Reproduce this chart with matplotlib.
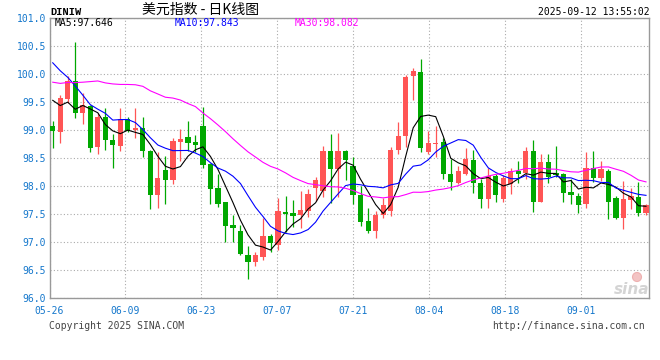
import numpy as np
import pandas as pd
import matplotlib
matplotlib.use("Agg")
import matplotlib.pyplot as plt
from matplotlib.patches import Circle
from matplotlib.transforms import IdentityTransform

# Bougies journalières DINIW, du 05-26 au 09-12 (80 jours ouvrés)
dates = pd.bdate_range("2025-05-26", "2025-09-12")

opens = [99.07, 98.97, 99.56, 99.87, 99.31, 99.42, 98.69, 99.24, 98.82, 98.71,
         99.19, 99.00, 99.04, 98.63, 97.84, 98.28, 98.10, 98.79, 98.87, 98.79,
         99.07, 98.40, 97.97, 97.71, 97.31, 97.19, 96.77, 96.64, 96.74, 97.11,
         96.95, 97.53, 97.51, 97.49, 97.55, 97.97, 97.91, 98.63, 98.30, 98.63,
         98.36, 97.84, 97.37, 97.19, 97.49, 97.56, 98.65, 98.90, 99.96, 100.04,
         98.61, 98.75, 98.78, 98.22, 98.06, 98.22, 98.47, 98.06, 97.77, 98.18,
         97.77, 98.04, 98.27, 98.24, 98.63, 97.71, 98.42, 98.23, 98.21, 97.90,
         97.83, 97.68, 98.33, 98.14, 98.27, 97.78, 97.42, 97.75, 97.81, 97.52]
highs = [99.16, 99.62, 99.96, 100.57, 99.66, 99.45, 99.31, 99.40, 98.93, 99.40,
         99.23, 99.40, 99.23, 98.64, 98.60, 98.54, 98.85, 99.01, 99.16, 98.91,
         99.41, 98.41, 98.22, 97.71, 97.49, 97.31, 96.93, 96.82, 97.42, 97.14,
         97.78, 97.82, 97.75, 97.91, 97.95, 98.16, 98.72, 98.92, 98.95, 98.64,
         98.51, 98.00, 97.60, 97.55, 97.78, 98.69, 99.15, 99.99, 100.11, 100.27,
         98.98, 99.07, 98.86, 98.48, 98.36, 98.67, 98.64, 98.12, 98.33, 98.22,
         98.20, 98.32, 98.44, 98.69, 98.83, 98.57, 98.57, 98.72, 98.24, 98.12,
         97.88, 98.60, 98.63, 98.44, 98.30, 97.82, 98.09, 97.96, 98.08, 97.68]
lows = [98.67, 98.76, 99.49, 99.21, 99.11, 98.60, 98.57, 98.64, 98.33, 98.63,
        98.96, 98.85, 98.51, 97.59, 97.60, 97.68, 98.03, 98.45, 98.63, 98.60,
        98.33, 97.68, 97.62, 97.00, 97.00, 96.76, 96.34, 96.58, 96.67, 96.82,
        96.86, 97.17, 97.26, 97.25, 97.44, 97.74, 97.80, 97.69, 97.80, 98.10,
        97.68, 97.29, 97.16, 97.08, 97.42, 97.47, 98.57, 98.70, 99.53, 98.60,
        98.57, 98.52, 98.13, 97.93, 98.04, 98.20, 97.88, 97.60, 97.60, 97.72,
        97.71, 97.85, 98.06, 98.12, 97.53, 97.71, 98.06, 98.16, 97.72, 97.68,
        97.51, 97.61, 98.08, 98.09, 97.41, 97.41, 97.23, 97.59, 97.46, 97.49]
closes = [98.98, 99.58, 99.87, 99.31, 99.45, 98.67, 99.24, 98.82, 98.74, 99.20,
          98.99, 99.04, 98.63, 97.84, 98.15, 98.10, 98.80, 98.84, 98.76, 98.73,
          98.37, 97.94, 97.68, 97.28, 97.25, 96.79, 96.64, 96.76, 97.11, 96.98,
          97.55, 97.50, 97.47, 97.57, 97.85, 98.11, 98.63, 98.30, 98.63, 98.46,
          97.84, 97.36, 97.19, 97.49, 97.66, 98.64, 98.90, 99.95, 100.05, 98.67,
          98.76, 98.76, 98.21, 98.08, 98.26, 98.49, 98.06, 97.77, 98.18, 97.84,
          98.15, 98.27, 98.21, 98.63, 97.71, 98.42, 98.16, 98.20, 97.87, 97.84,
          97.66, 98.32, 98.14, 98.31, 97.71, 97.42, 97.77, 97.82, 97.52, 97.66]

# clôtures avant le 05-26 (estimées), juste pour amorcer les moyennes mobiles
pre_close = [100.22, 99.38, 99.38, 99.23, 98.35, 98.90, 99.85, 99.30, 99.47, 99.00,
             99.20, 99.47, 100.25, 99.85, 99.83, 99.25, 99.90, 100.64, 100.35, 101.79,
             101.00, 101.05, 100.84, 101.09, 100.37, 100.05, 99.56, 99.95, 99.11]

ma_periods = [5, 10, 30]
ma_colors = ["black", "#0000ff", "#ff00ff"]
ma_labels = ["MA5:97.646", "MA10:97.843", "MA30:98.082"]

tick_labels = ["05-26", "06-09", "06-23", "07-07", "07-21", "08-04", "08-18", "09-01"]
y_ticks = [96.0, 96.5, 97.0, 97.5, 98.0, 98.5, 99.0, 99.5, 100.0, 100.5, 101.0]

W, H = 660, 360
fig = plt.figure(figsize=(W / 100, H / 100), dpi=100)
ax = fig.add_axes([49.5 / W, 62 / H, 599.5 / W, 280 / H])

x = np.arange(len(closes))
o = np.array(opens)
c = np.array(closes)
up = c >= o
col = np.where(up, "#ff5555", "#00a800")

# mèches puis corps
ax.vlines(x, lows, highs, colors=col, lw=0.9, zorder=2)
body_bot = np.minimum(o, c)
body_h = np.maximum(np.abs(c - o), 0.02)
ax.bar(x, body_h, bottom=body_bot, width=0.7, color=col, lw=0, zorder=3)

# moyennes mobiles
s = pd.Series(pre_close + closes)
for n, colr in zip(ma_periods, ma_colors):
    ma = s.rolling(n).mean().iloc[len(pre_close):].values
    ax.plot(x, ma, color=colr, lw=0.8, zorder=4)

ax.set_ylim(96, 101)
ax.set_xlim(-0.43, 79.4)

mono = "DejaVu Sans Mono"
ax.set_yticks(y_ticks)
ax.set_yticklabels([f"{v:.1f}" for v in y_ticks], fontsize=7, color="#1477cc", family=mono)
tick_pos = [dates.get_loc(pd.Timestamp("2025-" + t)) * 1.012 - 0.43 for t in tick_labels]
ax.set_xticks(tick_pos)
ax.set_xticklabels(tick_labels, fontsize=7, color="#1477cc", family=mono)
ax.tick_params(axis="both", length=0)
ax.tick_params(axis="y", pad=2.5)
ax.tick_params(axis="x", pad=6)

ax.grid(True, color="#aaaaaa", linestyle=(0, (1, 2)), lw=0.8, zorder=0)
for sp in ax.spines.values():
    sp.set_color("#999999")
    sp.set_linewidth(1)

# légende des MA dans le cadre
for lab, colr, px in zip(ma_labels, ma_colors, [55, 175, 295]):
    fig.text(px / W, 1 - 23.5 / H, lab, color=colr, fontsize=7, family=mono, va="center")

# en-tête
fig.text(50.5 / W, 1 - 12 / H, "DINIW", fontsize=7.5, family="Liberation Mono",
         weight="bold", va="center")
fig.text(201 / W, 1 - 9.5 / H, "美元指数 - 日K线图", fontsize=10, ha="center", va="center",
         family=["Noto Sans CJK SC", "DejaVu Sans"])
fig.text(650 / W, 1 - 12 / H, "2025-09-12 13:55:02", fontsize=7, family=mono,
         ha="right", va="center")

# pied de page
fig.text(49 / W, 1 - 326 / H, "Copyright 2025 SINA.COM", fontsize=7, family=mono,
         color="#444444", va="center")
fig.text(645 / W, 1 - 326 / H, "http://finance.sina.com.cn", fontsize=7, family=mono,
         color="#444444", ha="right", va="center")

# filigrane sina
fig.add_artist(Circle((637, H - 277), 4.5, transform=IdentityTransform(),
                      facecolor="#f3c4c4", edgecolor="#eeb0b0", lw=0.8))
fig.text(632 / W, 1 - 289 / H, "sina", fontsize=11, style="italic", weight="bold",
         color="#d4d4d4", ha="center", va="center", family="DejaVu Sans")

fig.savefig("out.png", dpi=100)
